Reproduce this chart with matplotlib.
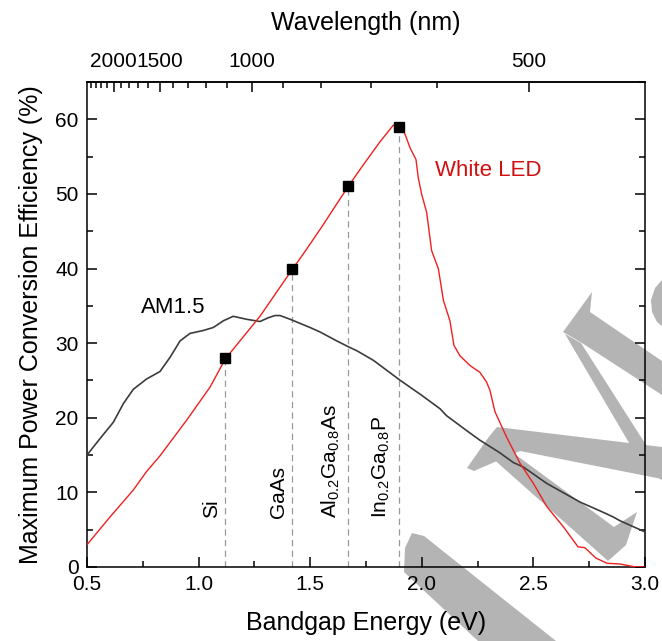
import numpy as np
import matplotlib
matplotlib.use("Agg")
import matplotlib.pyplot as plt
from matplotlib.patches import Polygon
from matplotlib.ticker import MultipleLocator, FixedLocator, NullFormatter

plt.rcParams['font.family'] = ['Liberation Sans', 'DejaVu Sans']
plt.rcParams['mathtext.fontset'] = 'custom'
plt.rcParams['mathtext.rm'] = 'Liberation Sans'
plt.rcParams['mathtext.it'] = 'Liberation Sans:italic'
plt.rcParams['mathtext.default'] = 'regular'

# ---------------- data ----------------
led_E = [0.50, 0.506, 0.603, 0.707, 0.767, 0.827, 0.947, 1.051, 1.12, 1.275, 1.42,
         1.477, 1.55, 1.67, 1.738, 1.813, 1.872, 1.90, 1.925, 1.947, 1.974, 1.984,
         1.999, 2.022, 2.044, 2.074, 2.097, 2.126, 2.144, 2.171, 2.216, 2.26, 2.29,
         2.305, 2.328, 2.38, 2.44, 2.50, 2.56, 2.634, 2.70, 2.73, 2.78, 2.83, 2.888,
         2.95, 3.0]
led_eff = [3.0, 3.2, 6.7, 10.3, 12.8, 14.9, 19.7, 24.1, 27.9, 33.6, 39.9,
           42.3, 45.5, 51.0, 53.9, 57.0, 59.2, 59.3, 58.0, 56.2, 54.6, 52.2,
           50.0, 47.5, 42.4, 40.0, 35.7, 33.0, 29.7, 28.3, 27.0, 26.1, 24.8,
           23.7, 20.8, 17.4, 13.9, 11.2, 8.1, 5.4, 2.7, 2.6, 1.2, 0.5, 0.4,
           0.05, 0.0]

am_E = [0.50, 0.558, 0.618, 0.663, 0.707, 0.767, 0.827, 0.872, 0.917, 0.961, 1.021,
        1.066, 1.111, 1.155, 1.215, 1.275, 1.312, 1.342, 1.365, 1.41, 1.499, 1.544,
        1.619, 1.672, 1.708, 1.783, 1.904, 2.00, 2.082, 2.11, 2.20, 2.26, 2.35,
        2.41, 2.455, 2.56, 2.709, 2.80, 2.858, 2.888, 3.0]
am_eff = [15.0, 17.2, 19.4, 21.9, 23.8, 25.2, 26.2, 28.1, 30.3, 31.3, 31.7,
          32.1, 33.0, 33.6, 33.2, 32.9, 33.4, 33.7, 33.7, 33.2, 32.1, 31.5,
          30.3, 29.5, 29.0, 27.7, 25.0, 23.0, 21.2, 20.3, 18.3, 17.0, 15.3,
          14.0, 13.4, 11.2, 8.7, 7.5, 6.7, 6.2, 4.7]

mat_names = ['Si', 'GaAs', r'Al$_{0.2}$Ga$_{0.8}$As', r'In$_{0.2}$Ga$_{0.8}$P']
mat_E = [1.12, 1.42, 1.67, 1.90]
mat_eff = [28, 40, 51, 59]

wl_major = [2000, 1500, 1000, 500]
wl_minor = [2400, 2300, 2200, 2100, 1900, 1800, 1700, 1600, 1400, 1300, 1200,
            1100, 900, 800, 700, 600]

# watermark (decorative, figure pixel coordinates)
WM_SHAPES = [
    [(412, 533), (424, 536), (556, 641), (478, 641), (404, 572), (405, 548)],
    [(497, 427), (662, 447), (662, 479), (520, 451), (474, 471), (467, 468), (488, 438)],
    [(490, 456), (512, 452), (614, 527), (637, 512), (626, 545), (608, 561), (598, 552)],
    [(592, 292), (590, 312), (662, 361), (662, 395), (582, 343), (563, 332)],
    [(565, 334), (581, 343), (662, 470), (662, 480), (645, 470)],
    [(662, 280), (655, 288), (651, 300), (652, 312), (657, 322), (662, 326)],
]
WM_COLOR = '#b4b4b4'

W, H = 662, 641
fig = plt.figure(figsize=(W / 100, H / 100), dpi=100)
for shp in WM_SHAPES:
    pts = [(x / W, 1 - y / H) for x, y in shp]
    fig.add_artist(Polygon(pts, closed=True, facecolor=WM_COLOR, edgecolor='none',
                           transform=fig.transFigure, zorder=-5))

ax = fig.add_axes([87 / W, 1 - 567 / H, 558 / W, 485 / H])
ax.set_facecolor('none')

ax.plot(am_E, am_eff, color='#3c3c3c', lw=1.2, zorder=3)
ax.plot(led_E, led_eff, color='#f02020', lw=1.0, zorder=4)

for e, v in zip(mat_E, mat_eff):
    ax.plot([e, e], [0, v], color='#999999', lw=0.9, ls=(0, (5, 3.5)), zorder=2)
ax.plot(mat_E, mat_eff, ls='none', marker='s', ms=7.2, color='black', zorder=5)

label_dx = [-0.063, -0.06, -0.078, -0.08]
for name, e, dx in zip(mat_names, mat_E, label_dx):
    ax.text(e + dx, 6.5, name, rotation=90, ha='center', va='bottom', fontsize=15)

ax.text(0.885, 34.8, 'AM1.5', fontsize=16, ha='center', va='center')
ax.text(2.298, 53.1, 'White LED', fontsize=16, ha='center', va='center', color='#d01010')

ax.set_xlim(0.5, 3.0)
ax.set_ylim(0, 65)
ax.xaxis.set_major_locator(MultipleLocator(0.5))
ax.xaxis.set_minor_locator(MultipleLocator(0.25))
ax.yaxis.set_major_locator(MultipleLocator(10))
ax.yaxis.set_minor_locator(MultipleLocator(5))
ax.xaxis.set_major_formatter(matplotlib.ticker.FormatStrFormatter('%.1f'))
ax.tick_params(which='both', direction='in', right=True, top=False, labelsize=15, width=1.1)
ax.tick_params(which='major', length=7)
ax.tick_params(which='minor', length=4.5)
ax.tick_params(axis='x', pad=6)
ax.tick_params(axis='y', pad=6)
for s in ax.spines.values():
    s.set_linewidth(1.1)

ax.set_xlabel('Bandgap Energy (eV)', fontsize=18, labelpad=12)
ax.set_ylabel('Maximum Power Conversion Efficiency (%)', fontsize=18, labelpad=9)


def e2w(E):
    E = np.asarray(E, dtype=float)
    return 1240.0 / np.where(E == 0, 1e-9, E)


sec = ax.secondary_xaxis('top', functions=(e2w, e2w))
sec.xaxis.set_major_locator(FixedLocator(wl_major))
sec.xaxis.set_minor_locator(FixedLocator(wl_minor))
sec.xaxis.set_minor_formatter(NullFormatter())
sec.tick_params(which='both', direction='in', labelsize=15, width=1.1, pad=8)
sec.tick_params(which='major', length=7)
sec.tick_params(which='minor', length=4.5)
sec.set_xlabel('Wavelength (nm)', fontsize=18, labelpad=16)
for s in sec.spines.values():
    s.set_linewidth(1.1)

fig.savefig('out.png', dpi=100)
